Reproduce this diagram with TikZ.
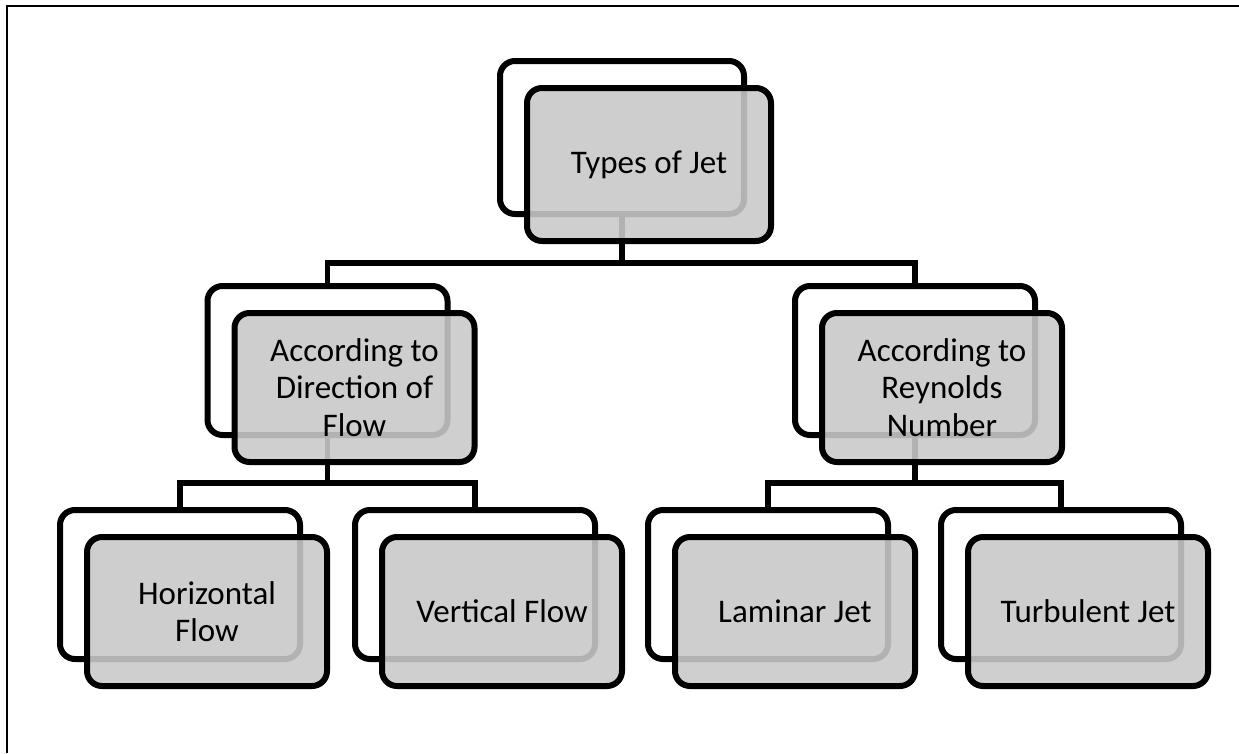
\documentclass[tikz,border=0pt]{standalone}
\usepackage{fontspec}
\setmainfont{Carlito}
\usetikzlibrary{backgrounds}
\begin{document}
\begin{tikzpicture}[x=1pt,y=-1pt,
  backbox/.style={draw=black, line width=6pt, rounded corners=15pt, fill=white,
    minimum width=240pt, minimum height=149pt, inner sep=0pt},
  frontbox/.style={draw=black, line width=6pt, rounded corners=15pt, fill=black!21,
    fill opacity=0.89, draw opacity=1, text opacity=1,
    minimum width=240pt, minimum height=149pt, inner sep=0pt, align=center,
    font=\fontsize{33}{37.5}\selectfont},
  conn/.style={line width=5.5pt},
  frame/.style={line width=2.5pt}]
\useasboundingbox (0,0) rectangle (1239,753);
% frame
\coordinate (fbl) at (7,753);
\coordinate (ftl) at (7,6);
\coordinate (ftr) at (1239,6);
\draw[frame] (fbl) -- (ftl) -- (ftr);
% back boxes
\node[backbox, minimum width=244pt, minimum height=153pt] (b1) at (622,137.5) {};
\node[backbox] (b2l) at (327.5,360.5) {};
\node[backbox] (b2r) at (915,360.5) {};
\node[backbox] (b3a) at (180,584.5) {};
\node[backbox] (b3b) at (475,584.5) {};
\node[backbox] (b3c) at (768,584.5) {};
\node[backbox] (b3d) at (1061,584.5) {};
% front boxes
\node[frontbox, minimum width=244pt, minimum height=153pt] (f1) at (649,164.5) {Types of Jet};
\node[frontbox] (f2l) at (354.5,387.5) {According to\\Direction of\\Flow};
\node[frontbox] (f2r) at (942,387.5) {According to\\Reynolds\\Number};
\node[frontbox] (f3a) at (207,611.5) {Horizontal\\Flow};
\node[frontbox] (f3b) at (502,611.5) {Vertical Flow};
\node[frontbox] (f3c) at (795,611.5) {Laminar Jet};
\node[frontbox] (f3d) at (1088,611.5) {Turbulent Jet};
% connectors
\coordinate (j1) at (622,263);
\coordinate (j2l) at (327.5,483);
\coordinate (j2r) at (915,483);
\begin{scope}[on background layer]
\draw[conn] (b1.south) -- (j1) -| (b2l.north);
\draw[conn] (j1) -| (b2r.north);
\draw[conn] (b2l.south) -- (j2l) -| (b3a.north);
\draw[conn] (j2l) -| (b3b.north);
\draw[conn] (b2r.south) -- (j2r) -| (b3c.north);
\draw[conn] (j2r) -| (b3d.north);
\end{scope}
\end{tikzpicture}
\end{document}
